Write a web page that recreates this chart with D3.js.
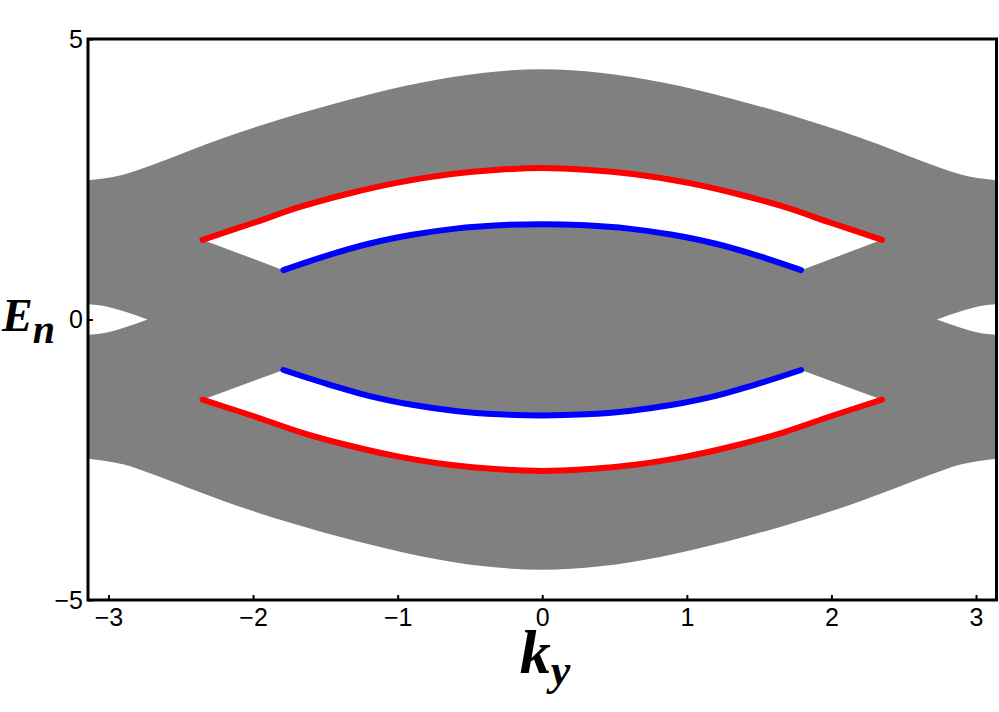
<!DOCTYPE html>
<html>
<head>
<meta charset="utf-8">
<script src="https://cdn.jsdelivr.net/npm/d3@7"></script>
<style>
  html, body { margin: 0; padding: 0; background: #fff; }
  svg { display: block; }
</style>
</head>
<body>
<svg id="chart" width="999" height="712"></svg>
<script>
// ---------- data ----------
const kTicks = [-3, -2, -1, 0, 1, 2, 3];
const eTicks = [-5, 0, 5];

// bulk band envelope (grey region)
const bulkK      = [-3.1416, -2.9, -2.67, -2.45, -2.2, -1.76, -1.29, -0.84, -0.4, 0, 0.4, 0.84, 1.29, 1.76, 2.2, 2.45, 2.67, 2.9, 3.1416];
const bulkTop    = [2.48, 2.58, 2.78, 3.00, 3.24, 3.61, 3.95, 4.22, 4.40, 4.46, 4.40, 4.22, 3.95, 3.61, 3.24, 3.00, 2.78, 2.58, 2.48];
const bulkBottom = [-2.48, -2.58, -2.78, -3.00, -3.24, -3.61, -3.95, -4.22, -4.40, -4.46, -4.40, -4.22, -3.95, -3.61, -3.24, -3.00, -2.78, -2.58, -2.48];

// red edge states
const redK     = [-2.35, -2.0, -1.67, -1.33, -1.0, -0.64, -0.3, 0, 0.3, 0.64, 1.0, 1.33, 1.67, 2.0, 2.35];
const redUpper = [1.42, 1.72, 2.01, 2.25, 2.44, 2.59, 2.67, 2.70, 2.67, 2.59, 2.44, 2.25, 2.01, 1.72, 1.42];
const redLower = [-1.43, -1.72, -2.01, -2.25, -2.44, -2.59, -2.67, -2.70, -2.67, -2.59, -2.44, -2.25, -2.01, -1.72, -1.43];

// blue edge states
const blueK     = [-1.79, -1.5, -1.2, -0.9, -0.6, -0.3, 0, 0.3, 0.6, 0.9, 1.2, 1.5, 1.79];
const blueUpper = [0.88, 1.13, 1.35, 1.51, 1.62, 1.68, 1.70, 1.68, 1.62, 1.51, 1.35, 1.13, 0.88];
const blueLower = [-0.90, -1.14, -1.36, -1.52, -1.63, -1.69, -1.71, -1.69, -1.63, -1.52, -1.36, -1.14, -0.90];

// small gaps at the zone edge around E = 0
const lensLeftK   = [-3.1416, -3.05, -2.9, -2.73];
const lensLeftH   = [0.27, 0.25, 0.15, 0];
const lensRightK  = [2.73, 2.9, 3.05, 3.1416];
const lensRightH  = [0, 0.15, 0.25, 0.27];

// ---------- layout ----------
const svg = d3.select("#chart");
const L = 88, R = 996.5, T = 39, B = 600;
const x = d3.scaleLinear().domain([-Math.PI, Math.PI]).range([L, R]);
const y = d3.scaleLinear().domain([-5, 5]).range([B, T]);

const zip = (ks, es) => ks.map((k, i) => [k, es[i]]);

svg.append("defs").append("clipPath").attr("id", "plotclip")
  .append("rect").attr("x", L).attr("y", T).attr("width", R - L).attr("height", B - T);

const g = svg.append("g").attr("clip-path", "url(#plotclip)");

// grey bulk
const bulkArea = d3.area()
  .x(d => x(d[0])).y1(d => y(d[1])).y0(d => y(d[2]))
  .curve(d3.curveMonotoneX);
g.append("path")
  .datum(bulkK.map((k, i) => [k, bulkTop[i], bulkBottom[i]]))
  .attr("d", bulkArea)
  .attr("fill", "#808080");

// lenses
const lensArea = d3.area()
  .x(d => x(d[0])).y1(d => y(d[1])).y0(d => y(-d[1]))
  .curve(d3.curveMonotoneX);
g.append("path").datum(zip(lensLeftK, lensLeftH)).attr("d", lensArea).attr("fill", "#fff");
g.append("path").datum(zip(lensRightK, lensRightH)).attr("d", lensArea).attr("fill", "#fff");

// gap polygons
const line = d3.line().x(d => x(d[0])).y(d => y(d[1])).curve(d3.curveCatmullRom.alpha(0.5));
function gapPath(outer, inner) {
  const a = line(outer);
  const b = line(inner.slice().reverse());
  return a + "L" + b.slice(1) + "Z";
}
g.append("path").attr("d", gapPath(zip(redK, redUpper), zip(blueK, blueUpper))).attr("fill", "#fff");
g.append("path").attr("d", gapPath(zip(redK, redLower), zip(blueK, blueLower))).attr("fill", "#fff");

// edge-state curves
const curves = [
  { d: zip(redK, redUpper), c: "#ff0000" },
  { d: zip(redK, redLower), c: "#ff0000" },
  { d: zip(blueK, blueUpper), c: "#0000ff" },
  { d: zip(blueK, blueLower), c: "#0000ff" }
];
g.selectAll("path.curve").data(curves).enter().append("path")
  .attr("class", "curve")
  .attr("d", d => line(d.d))
  .attr("fill", "none")
  .attr("stroke", d => d.c)
  .attr("stroke-width", 6)
  .attr("stroke-linecap", "round")
  .attr("stroke-linejoin", "round");

// axes
const fmt = d => (d < 0 ? "\u2212" + Math.abs(d) : String(d));
const xAxis = d3.axisBottom(x).tickValues(kTicks).tickFormat(fmt).tickSizeInner(-5).tickSizeOuter(0).tickPadding(8);
const yAxis = d3.axisLeft(y).tickValues(eTicks).tickFormat(fmt).tickSizeInner(-5).tickSizeOuter(0).tickPadding(5);

const gx = svg.append("g").attr("transform", `translate(0,${B})`).call(xAxis);
const gy = svg.append("g").attr("transform", `translate(${L},0)`).call(yAxis);
[gx, gy].forEach(a => {
  a.select(".domain").remove();
  a.selectAll(".tick line").attr("stroke", "#000").attr("stroke-width", 2);
  a.selectAll(".tick text")
    .attr("fill", "#000")
    .style("font-family", "'Liberation Sans', Arial, sans-serif")
    .style("font-size", "25px");
});

// frame
svg.append("rect")
  .attr("x", L).attr("y", T).attr("width", R - L).attr("height", B - T)
  .attr("fill", "none").attr("stroke", "#000").attr("stroke-width", 3);

// axis titles
const serif = "'Liberation Serif', 'Times New Roman', serif";
const ey = svg.append("text")
  .attr("x", 2).attr("y", 331)
  .style("font-family", serif).style("font-weight", "bold").style("font-style", "italic")
  .style("font-size", "46px").attr("fill", "#000");
ey.append("tspan").text("E");
ey.append("tspan").attr("dy", 12).style("font-size", "40px").text("n");

const kx = svg.append("text")
  .attr("x", 545).attr("y", 673).attr("text-anchor", "middle")
  .style("font-family", serif).style("font-weight", "bold").style("font-style", "italic")
  .style("font-size", "62px").attr("fill", "#000");
kx.append("tspan").text("k");
kx.append("tspan").attr("dy", 12).style("font-size", "44px").text("y");
</script>
</body>
</html>
